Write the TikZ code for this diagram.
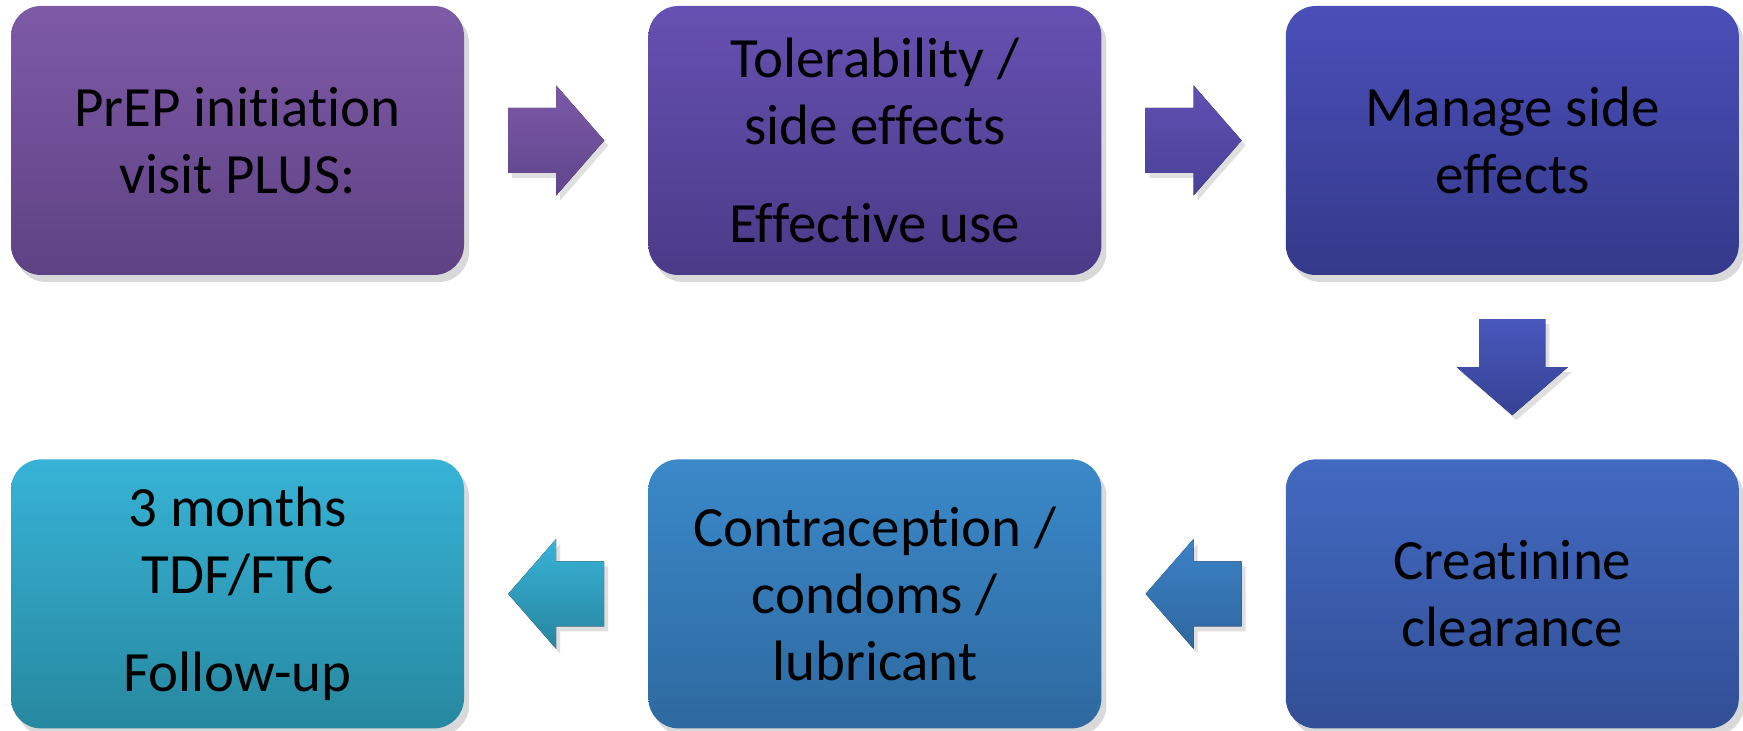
\documentclass[tikz,border=0pt]{standalone}
\usepackage{fontspec}
\setmainfont{Carlito}[Ligatures=NoCommon]
\usepackage{tikz}
\usetikzlibrary{positioning,calc,shadows}

\definecolor{violetA}{HTML}{7E5AA7}
\definecolor{violetB}{HTML}{5E4284}
\definecolor{indigoA}{HTML}{6650B1}
\definecolor{indigoB}{HTML}{4A3B88}
\definecolor{navyA}{HTML}{4A4FB9}
\definecolor{navyB}{HTML}{35398A}
\definecolor{blueA}{HTML}{4269C1}
\definecolor{blueB}{HTML}{324F96}
\definecolor{steelA}{HTML}{3A89C9}
\definecolor{steelB}{HTML}{2E69A0}
\definecolor{cyanA}{HTML}{37B3D7}
\definecolor{cyanB}{HTML}{27889F}

\tikzset{
  stepbox/.style={rectangle, rounded corners=3mm, minimum width=45.3mm,
    minimum height=26.9mm, align=center, inner sep=1mm,
    font=\fontsize{16.2}{19}\selectfont,
    drop shadow={opacity=0.3, shadow xshift=0.5mm, shadow yshift=-0.7mm}},
  blockarrow/.style={draw=none,
    drop shadow={opacity=0.25, shadow xshift=0.4mm, shadow yshift=-0.5mm}},
}

\begin{document}
\begin{tikzpicture}[x=0.1mm, y=-0.1mm, node distance=18.3mm]
\useasboundingbox (0,0) rectangle (1743,731);

% top row
\node[stepbox, top color=violetA, bottom color=violetB] (init) at (237.5,140.5)
  {PrEP initiation\\visit PLUS:};
\node[stepbox, top color=indigoA, bottom color=indigoB, right=of init] (toler)
  {Tolerability /\\side effects\\[9pt]Effective use};
\node[stepbox, top color=navyA, bottom color=navyB, right=of toler] (manage)
  {Manage side\\effects};

% bottom row
\node[stepbox, top color=blueA, bottom color=blueB, below=of manage] (creat)
  {Creatinine\\clearance};
\node[stepbox, top color=steelA, bottom color=steelB, left=of creat] (contra)
  {Contraception /\\condoms /\\lubricant};
\node[stepbox, top color=cyanA, bottom color=cyanB, left=of contra] (month)
  {3 months\\TDF/FTC\\[9pt]Follow-up};

% arrows between the steps
\coordinate (a1) at ($(init.east)!0.5!(toler.west)$);
\coordinate (a2) at ($(toler.east)!0.5!(manage.west)$);
\coordinate (a3) at ($(manage.south)!0.5!(creat.north)$);
\coordinate (a4) at ($(creat.west)!0.5!(contra.east)$);
\coordinate (a5) at ($(contra.west)!0.5!(month.east)$);

\fill[blockarrow, top color=violetA!90!indigoA, bottom color=violetB!80!indigoA]
  (a1) ++(-48,-32.5) -- ++(48,0) -- ++(0,-22.5) -- ++(48,55) -- ++(-48,55)
  -- ++(0,-22.5) -- ++(-48,0) -- cycle;
\fill[blockarrow, top color=indigoA!80!navyA, bottom color=indigoB!70!navyA]
  (a2) ++(-48,-32.5) -- ++(48,0) -- ++(0,-22.5) -- ++(48,55) -- ++(-48,55)
  -- ++(0,-22.5) -- ++(-48,0) -- cycle;
\fill[blockarrow, top color=navyA!70!blueA, bottom color=navyB!80!blueA]
  (a3) ++(-33,-48) -- ++(0,48) -- ++(-22.5,0) -- ++(55.5,48) -- ++(55.5,-48)
  -- ++(-22.5,0) -- ++(0,-48) -- cycle;
\fill[blockarrow, top color=steelA!80!blueA, bottom color=steelB!90!blueB]
  (a4) ++(48,-32.5) -- ++(-48,0) -- ++(0,-22.5) -- ++(-48,55) -- ++(48,55)
  -- ++(0,-22.5) -- ++(48,0) -- cycle;
\fill[blockarrow, top color=cyanA, bottom color=cyanB!90!steelB]
  (a5) ++(48,-32.5) -- ++(-48,0) -- ++(0,-22.5) -- ++(-48,55) -- ++(48,55)
  -- ++(0,-22.5) -- ++(48,0) -- cycle;
\end{tikzpicture}
\end{document}
